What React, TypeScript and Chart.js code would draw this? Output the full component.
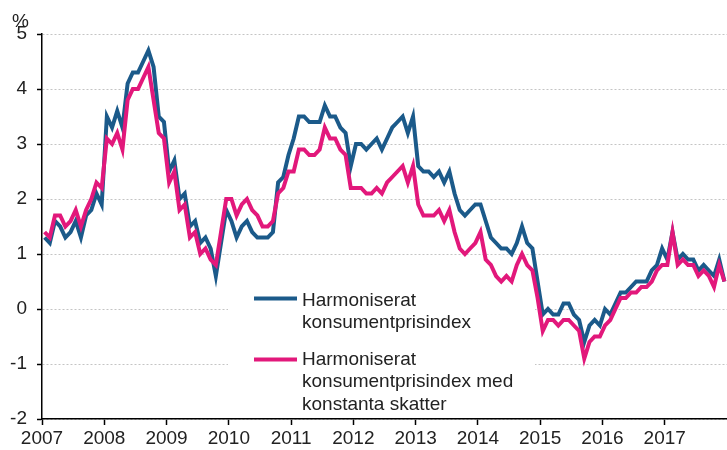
import React, { useEffect, useRef } from 'react';
import { Chart, registerables } from 'chart.js';

Chart.register(...registerables);

// ---- Data (monthly, Jan 2007 – Dec 2017, annual change %) ----
const years = ['2007', '2008', '2009', '2010', '2011', '2012', '2013', '2014', '2015', '2016', '2017'];

const hicp = [
  1.3, 1.2, 1.6, 1.5, 1.3, 1.4, 1.6, 1.3, 1.7, 1.8, 2.1, 1.9,
  3.5, 3.3, 3.6, 3.3, 4.1, 4.3, 4.3, 4.5, 4.7, 4.4, 3.5, 3.4,
  2.5, 2.7, 2.0, 2.1, 1.5, 1.6, 1.2, 1.3, 1.1, 0.6, 1.2, 1.8,
  1.6, 1.3, 1.5, 1.6, 1.4, 1.3, 1.3, 1.3, 1.4, 2.3, 2.4, 2.8,
  3.1, 3.5, 3.5, 3.4, 3.4, 3.4, 3.7, 3.5, 3.5, 3.3, 3.2, 2.6,
  3.0, 3.0, 2.9, 3.0, 3.1, 2.9, 3.1, 3.3, 3.4, 3.5, 3.2, 3.5,
  2.6, 2.5, 2.5, 2.4, 2.5, 2.3, 2.5, 2.1, 1.8, 1.7, 1.8, 1.9,
  1.9, 1.6, 1.3, 1.2, 1.1, 1.1, 1.0, 1.2, 1.5, 1.2, 1.1, 0.5,
  -0.1, 0.0, -0.1, -0.1, 0.1, 0.1, -0.1, -0.2, -0.6, -0.3, -0.2, -0.3,
  0.0, -0.1, 0.1, 0.3, 0.3, 0.4, 0.5, 0.5, 0.5, 0.7, 0.8, 1.1,
  0.9, 1.4, 0.9, 1.0, 0.9, 0.9, 0.7, 0.8, 0.7, 0.6, 0.9, 0.5,
];

const hicpConstantTaxes = [
  1.4, 1.3, 1.7, 1.7, 1.5, 1.6, 1.8, 1.5, 1.8, 2.0, 2.3, 2.2,
  3.1, 3.0, 3.2, 2.9, 3.8, 4.0, 4.0, 4.2, 4.4, 3.8, 3.2, 3.1,
  2.3, 2.5, 1.8, 1.9, 1.3, 1.4, 1.0, 1.1, 0.9, 0.8, 1.4, 2.0,
  2.0, 1.7, 1.9, 2.0, 1.8, 1.7, 1.5, 1.5, 1.6, 2.1, 2.2, 2.5,
  2.5, 2.9, 2.9, 2.8, 2.8, 2.9, 3.3, 3.1, 3.1, 2.9, 2.8, 2.2,
  2.2, 2.2, 2.1, 2.1, 2.2, 2.1, 2.3, 2.4, 2.5, 2.6, 2.3, 2.6,
  1.9, 1.7, 1.7, 1.7, 1.8, 1.6, 1.8, 1.4, 1.1, 1.0, 1.1, 1.2,
  1.4, 0.9, 0.8, 0.6, 0.5, 0.6, 0.5, 0.8, 1.0, 0.8, 0.7, 0.2,
  -0.4, -0.2, -0.2, -0.3, -0.2, -0.2, -0.3, -0.4, -0.9, -0.6, -0.5, -0.5,
  -0.3, -0.2, 0.0, 0.2, 0.2, 0.3, 0.3, 0.4, 0.4, 0.5, 0.7, 0.8,
  0.8, 1.4, 0.8, 0.9, 0.8, 0.8, 0.6, 0.7, 0.6, 0.4, 0.8, 0.5,
];

const legendHicp = ['Harmoniserat', 'konsumentprisindex'];
const legendConst = ['Harmoniserat', 'konsumentprisindex med', 'konstanta skatter'];
const unitLabel = '%';

const BLUE = '#1b5a8a';
const PINK = '#e2187b';
const FONT = '"Liberation Sans", Arial, sans-serif';
const TEXT = '#222222';

const overlayPlugin = {
  id: 'overlay',
  beforeDatasetsDraw(chart: any) {
    const ctx = chart.ctx;
    ctx.save();
    // white legend box hiding the grid lines behind it
    ctx.fillStyle = '#ffffff';
    ctx.fillRect(228, 270, 307, 147);
    // legend samples
    ctx.lineWidth = 4;
    ctx.lineCap = 'butt';
    ctx.strokeStyle = BLUE;
    ctx.beginPath();
    ctx.moveTo(254, 298.5);
    ctx.lineTo(297, 298.5);
    ctx.stroke();
    ctx.strokeStyle = PINK;
    ctx.beginPath();
    ctx.moveTo(254, 359.5);
    ctx.lineTo(297, 359.5);
    ctx.stroke();
    // legend texts
    ctx.fillStyle = TEXT;
    ctx.font = `19px ${FONT}`;
    ctx.textAlign = 'left';
    ctx.textBaseline = 'alphabetic';
    legendHicp.forEach((t, k) => ctx.fillText(t, 302, 306 + k * 22.3));
    legendConst.forEach((t, k) => ctx.fillText(t, 302, 365 + k * 22.3));
    ctx.restore();
  },
  afterDraw(chart: any) {
    const ctx = chart.ctx;
    ctx.save();
    ctx.fillStyle = TEXT;
    ctx.font = `19px ${FONT}`;
    ctx.textAlign = 'left';
    ctx.textBaseline = 'alphabetic';
    ctx.fillText(unitLabel, 12, 26.5);
    ctx.restore();
  },
};

export default function App() {
  const canvasRef = useRef<HTMLCanvasElement | null>(null);

  useEffect(() => {
    const canvas = canvasRef.current;
    if (!canvas) return;
    const chart = new Chart(canvas, {
      type: 'line',
      data: {
        datasets: [
          {
            label: legendHicp.join(' '),
            data: hicp.map((v, i) => ({ x: i, y: v })),
            borderColor: BLUE,
            borderWidth: 4,
            pointRadius: 0,
            tension: 0,
            fill: false,
            order: 1,
          },
          {
            label: legendConst.join(' '),
            data: hicpConstantTaxes.map((v, i) => ({ x: i, y: v })),
            borderColor: PINK,
            borderWidth: 4,
            pointRadius: 0,
            tension: 0,
            fill: false,
            order: 0,
          },
        ],
      },
      options: {
        responsive: false,
        animation: false,
        devicePixelRatio: 1,
        layout: { padding: { top: 34, left: 0, right: 0, bottom: 0 } },
        plugins: {
          legend: { display: false },
          tooltip: { enabled: false },
        },
        scales: {
          x: {
            type: 'linear',
            min: -0.5,
            max: 131.5,
            afterBuildTicks: (scale: any) => {
              scale.ticks = years.map((_, k) => ({ value: -0.5 + 12 * k }));
            },
            afterFit: (scale: any) => {
              scale.height = 31;
            },
            ticks: {
              autoSkip: false,
              maxRotation: 0,
              padding: 2,
              color: TEXT,
              font: { family: FONT, size: 19 },
              callback: (_v: any, idx: number) => years[idx],
            },
            grid: {
              drawOnChartArea: false,
              drawTicks: true,
              tickLength: 6,
              tickColor: '#000',
              tickWidth: 1.5,
              color: '#000',
            },
            border: { display: true, color: '#000', width: 1.5 },
          },
          y: {
            min: -2,
            max: 5,
            afterFit: (scale: any) => {
              scale.width = 42;
            },
            ticks: {
              stepSize: 1,
              padding: 10,
              color: TEXT,
              font: { family: FONT, size: 19 },
              callback: (v: any) => String(v),
            },
            grid: {
              color: '#c4c4c4',
              lineWidth: 1,
              drawTicks: true,
              tickLength: 5,
              tickColor: '#000',
              tickWidth: 1.5,
            },
            border: { display: true, color: '#000', width: 1.5, dash: [2, 2] },
          },
        },
      },
      plugins: [overlayPlugin],
    } as any);
    return () => chart.destroy();
  }, []);

  return (
    <div style={{ position: 'absolute', left: 0, top: 0, width: 727, height: 450, background: '#ffffff' }}>
      <canvas ref={canvasRef} width={727} height={450} style={{ display: 'block' }} />
    </div>
  );
}
